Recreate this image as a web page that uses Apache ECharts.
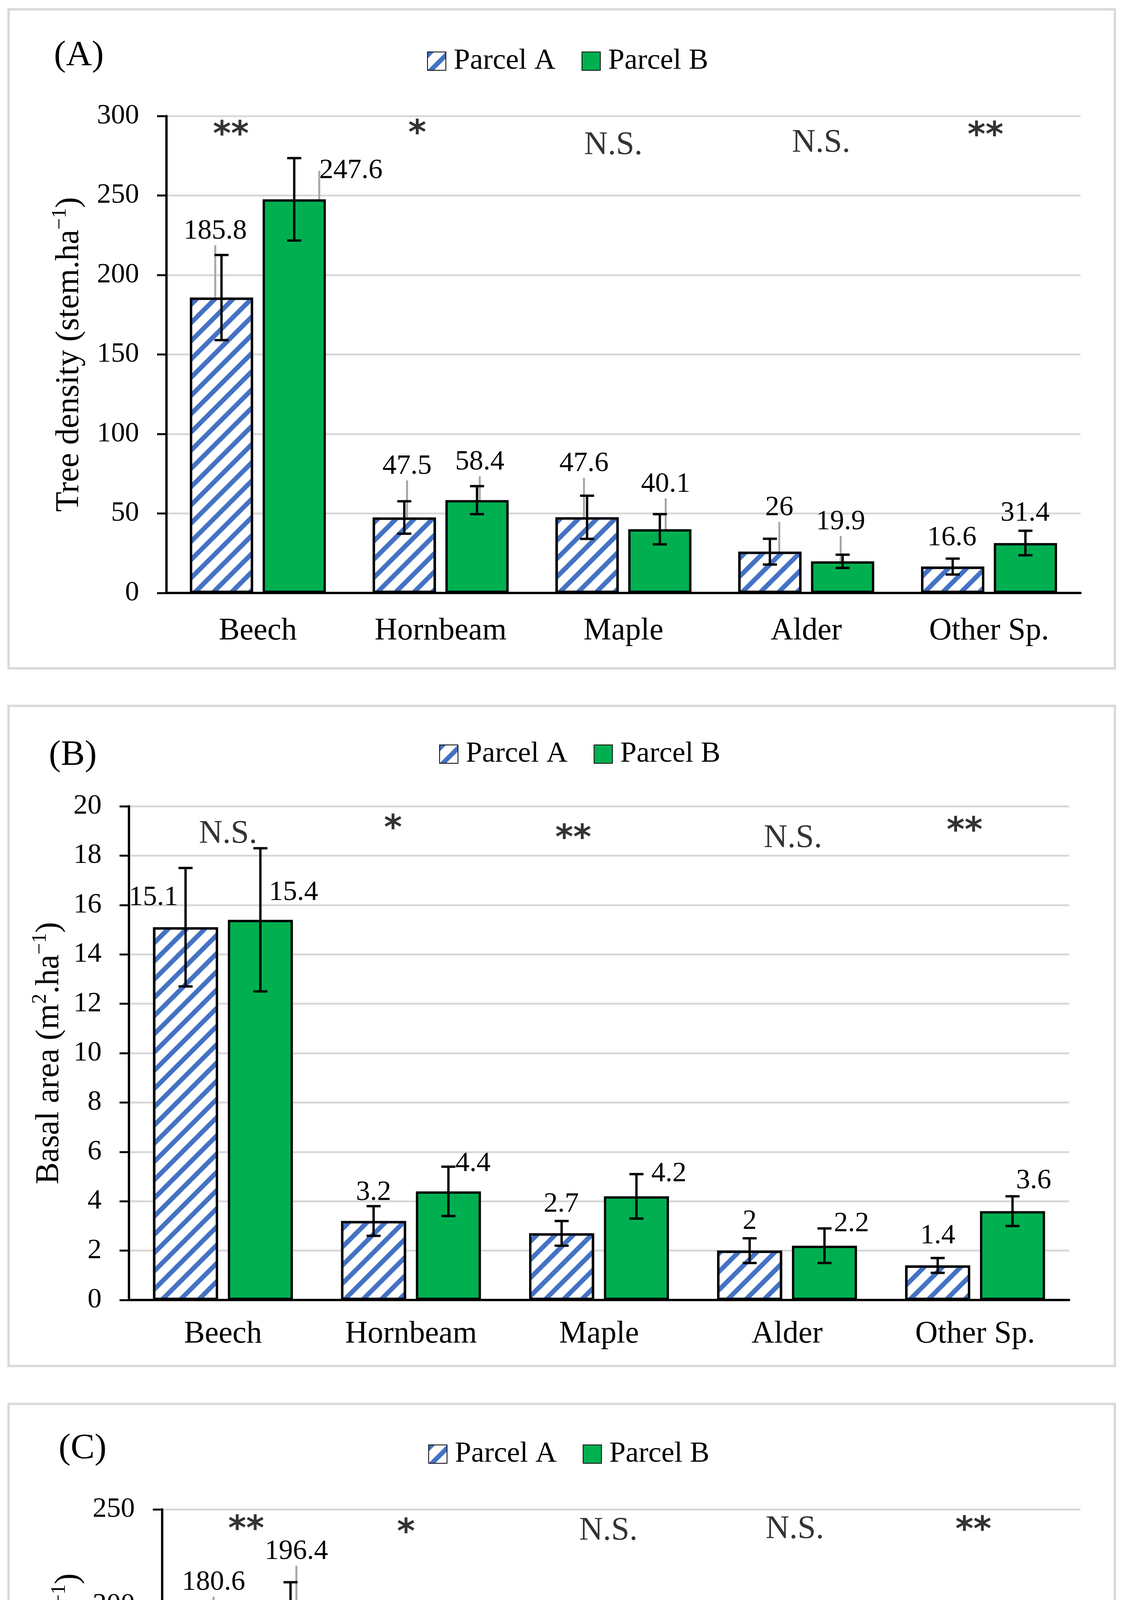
<!DOCTYPE html>
<html><head><meta charset="utf-8">
<script src="https://cdn.jsdelivr.net/npm/echarts@6/dist/echarts.min.js"></script>
<style>html,body{margin:0;padding:0;background:#fff}#c{width:2879px;height:5315px}</style>
</head><body><div id="c"></div>
<script>
// ---------------- data ----------------
const categories = ['Beech', 'Hornbeam', 'Maple', 'Alder', 'Other Sp.'];
const seriesNames = ['Parcel A', 'Parcel B'];

const densityA = [185.8, 47.5, 47.6, 26, 16.6];
const densityB = [247.6, 58.4, 40.1, 19.9, 31.4];
const densityErrA = [26.8, 10.2, 13.6, 8.1, 5.0];
const densityErrB = [25.9, 8.8, 9.5, 4.2, 7.7];
const densitySig = ['**', '*', 'N.S.', 'N.S.', '**'];
const densityAxis = { min: 0, max: 300, interval: 50 };

const basalA = [15.1, 3.2, 2.7, 2, 1.4];
const basalB = [15.4, 4.4, 4.2, 2.2, 3.6];
const basalErrA = [2.4, 0.6, 0.5, 0.5, 0.3];
const basalErrB = [2.9, 1.0, 0.9, 0.7, 0.6];
const basalSig = ['N.S.', '*', '**', 'N.S.', '**'];
const basalAxis = { min: 0, max: 20, interval: 2 };

const volumeA = [180.6, 84.3, 65.3, 51, 62.2];
const volumeB = [196.4, 93.1, 69.1, 53.9, 73.9];
const volumeErrA = [13.9, 6.4, 8.1, 6.7, 4.7];
const volumeErrB = [15.5, 8.7, 8.6, 6.0, 6.9];
const volumeSig = ['**', '*', 'N.S.', 'N.S.', '**'];
const volumeAxis = { min: 0, max: 250, interval: 50 };

// ---------------- layout / style ----------------
const FONT = 'Liberation Serif';
const BAR_W = 0.346, BAR_GAP = 0.15;
const panels = [
  { tag: '(A)', tagPos: [138, 97], legendPos: [1093, 119], border: [22, 24, 2831, 1687],
    grid: { left: 426, top: 297, width: 2339, height: 1221 },
    yName: 'Tree density (stem.ha{sup|\u22121})', nameGap: 198, catMargin: 58,
    A: densityA, B: densityB, eA: densityErrA, eB: densityErrB, sig: densitySig, axis: densityAxis,
    // label shift: [px above bar top (centre), dx]
    shiftA: [[170, -16], [131, 7], [137, -8], [112, 24], [73, -2]],
    shiftB: [[73, 145], [97, 7], [115, 15], [101, -5], [76, -1]],
    lineA: [1, 1, 1, 1, 0], lineB: [1, 1, 1, 1, 0],
    sigPos: [[-69, 287.5], [-60, 288.2], [-26, 281.3], [38, 282.8], [-9, 287.0]] },
  { tag: '(B)', tagPos: [125, 1888], legendPos: [1124, 1893], border: [22, 1807, 2831, 1690],
    grid: { left: 330, top: 2064, width: 2406, height: 1264 },
    yName: 'Basal area (m{sup|2}.ha{sup|\u22121})', nameGap: 146, catMargin: 48,
    A: basalA, B: basalB, eA: basalErrA, eB: basalErrB, sig: basalSig, axis: basalAxis,
    shiftA: [[76, -82], [73, 0], [74, -1], [75, 0], [75, 0]],
    shiftB: [[70, 85], [71, 63], [57, 83], [56, 69], [77, 54]],
    lineA: [0, 0, 0, 0, 0], lineB: [0, 0, 0, 0, 0],
    sigPos: [[13, 18.86], [-46, 19.05], [-66, 18.65], [15, 18.69], [-27, 18.95]] },
  { tag: '(C)', tagPos: [150, 3663], legendPos: [1096, 3685], border: [22, 3594, 2831, 1686],
    grid: { left: 415, top: 3864, width: 2350, height: 1223 },
    yName: 'Standing volume (m{sup|3}.ha{sup|\u22121})', nameGap: 186, catMargin: 56,
    A: volumeA, B: volumeB, eA: volumeErrA, eB: volumeErrB, sig: volumeSig, axis: volumeAxis,
    shiftA: [[152, -10], [101, -3], [106, -1], [75, -2], [76, -1]],
    shiftB: [[154, 15], [119, -10], [109, -10], [79, 41], [72, 16]],
    lineA: [1, 1, 1, 0, 0], lineB: [1, 1, 1, 0, 0],
    sigPos: [[-20, 239], [-81, 237.3], [-33, 238.5], [-26, 239.4], [-39, 238.6]] }
];

const LABEL_FS = 72;
const shiftBySeries = {};

const grids = [], xAxes = [], yAxes = [], series = [], legends = [], graphics = [];

function errRender(params, api) {
  const cat = api.value(0), val = api.value(1), err = api.value(2), side = api.value(3);
  const band = api.size([1, 0])[0];
  const bw = band * BAR_W, gap = bw * BAR_GAP;
  const off = side * (bw + gap) / 2;
  const top = api.coord([cat, val + err]);
  const bot = api.coord([cat, val - err]);
  const x = top[0] + off, cap = 18;
  const st = { stroke: '#000', lineWidth: 6 };
  return { type: 'group', children: [
    { type: 'line', shape: { x1: x, y1: top[1], x2: x, y2: bot[1] }, style: st },
    { type: 'line', shape: { x1: x - cap, y1: top[1], x2: x + cap, y2: top[1] }, style: st },
    { type: 'line', shape: { x1: x - cap, y1: bot[1], x2: x + cap, y2: bot[1] }, style: st }
  ] };
}

panels.forEach((p, k) => {
  grids.push(Object.assign({ containLabel: false }, p.grid));
  xAxes.push({
    type: 'category', gridIndex: k, data: categories,
    axisLine: { lineStyle: { color: '#000', width: 6 } },
    axisTick: { alignWithLabel: true, length: 18, lineStyle: { color: '#000', width: 6 } },
    axisLabel: { fontFamily: FONT, fontSize: 80, color: '#000', margin: p.catMargin }
  });
  yAxes.push({
    type: 'value', gridIndex: k, min: p.axis.min, max: p.axis.max, interval: p.axis.interval,
    name: p.yName, nameLocation: 'middle', nameGap: p.nameGap,
    nameTextStyle: { fontFamily: FONT, fontSize: 84, color: '#000', lineHeight: 100,
      rich: { sup: { fontFamily: FONT, fontSize: 52, lineHeight: 100, verticalAlign: 'top' } } },
    axisLine: { show: true, lineStyle: { color: '#000', width: 6 } },
    axisTick: { show: true, length: 24, lineStyle: { color: '#000', width: 5 } },
    axisLabel: { fontFamily: FONT, fontSize: 72, color: '#000', margin: 70 },
    splitLine: { lineStyle: { color: '#d9d9d9', width: 5 } }
  });

  const common = {
    type: 'bar', xAxisIndex: k, yAxisIndex: k, barWidth: (BAR_W * 100) + '%', barGap: (BAR_GAP * 100) + '%',
    label: { show: true, position: 'top', distance: 0, fontFamily: FONT, fontSize: LABEL_FS, color: '#000' },
    labelLine: { show: true, lineStyle: { color: '#a6a6a6', width: 5 } },
    labelLayout: function (params) {
      const s = shiftBySeries[params.seriesIndex];
      if (!s) return {};
      const v = s[params.dataIndex];
      return { dx: v[1], dy: -(v[0] - LABEL_FS / 2) };
    },
    z: 2
  };
  shiftBySeries[series.length] = p.shiftA;
  series.push(Object.assign({}, common, {
    name: seriesNames[0],
    data: p.A.map((v, i) => ({ value: v, labelLine: { show: !!p.lineA[i] } })),
    itemStyle: { color: '#ffffff', borderColor: '#000', borderWidth: 6,
      decal: { symbol: 'rect', symbolSize: 1, dashArrayX: [1, 0], dashArrayY: [12, 21],
        rotation: -Math.PI / 4, color: '#4472c4' } }
  }));
  shiftBySeries[series.length] = p.shiftB;
  series.push(Object.assign({}, common, {
    name: seriesNames[1],
    data: p.B.map((v, i) => ({ value: v, labelLine: { show: !!p.lineB[i] } })),
    itemStyle: { color: '#00b050', borderColor: '#000', borderWidth: 6 }
  }));
  series.push({
    type: 'custom', xAxisIndex: k, yAxisIndex: k, renderItem: errRender, z: 3, silent: true,
    encode: { x: 0, y: 1 },
    data: p.A.map((v, i) => [i, v, p.eA[i], -1]).concat(p.B.map((v, i) => [i, v, p.eB[i], 1]))
  });
  series.push({
    type: 'scatter', xAxisIndex: k, yAxisIndex: k, symbolSize: 1, z: 4, silent: true,
    itemStyle: { color: 'transparent' },
    label: { show: true, position: 'inside', formatter: '{b}', fontFamily: FONT, color: '#000' },
    data: p.sig.map((t, i) => ({
      name: t, value: [i, p.sigPos[i][1]],
      label: t === 'N.S.'
        ? { offset: [p.sigPos[i][0], 0], fontSize: 84 }
        : { offset: [p.sigPos[i][0], 0], fontSize: 88, fontWeight: 'bold', fontFamily: 'DejaVu Sans' }
    }))
  });

  legends.push({
    data: seriesNames, left: p.legendPos[0], top: p.legendPos[1], orient: 'horizontal',
    icon: 'rect', itemWidth: 47, itemHeight: 47, itemGap: 67, padding: 0,
    textStyle: { fontFamily: FONT, fontSize: 75, color: '#000', padding: [0, 0, 0, 15] }
  });

  graphics.push({ type: 'rect', shape: { x: p.border[0], y: p.border[1], width: p.border[2], height: p.border[3] },
    style: { fill: 'none', stroke: '#d9d9d9', lineWidth: 6 }, z: -1 });
  graphics.push({ type: 'text', left: p.tagPos[0], top: p.tagPos[1],
    style: { text: p.tag, font: '92px "' + FONT + '"', fill: '#000' } });
});

const chart = echarts.init(document.getElementById('c'));
chart.setOption({
  animation: false,
  backgroundColor: '#ffffff',
  grid: grids, xAxis: xAxes, yAxis: yAxes, series: series, legend: legends, graphic: graphics
});
</script></body></html>
